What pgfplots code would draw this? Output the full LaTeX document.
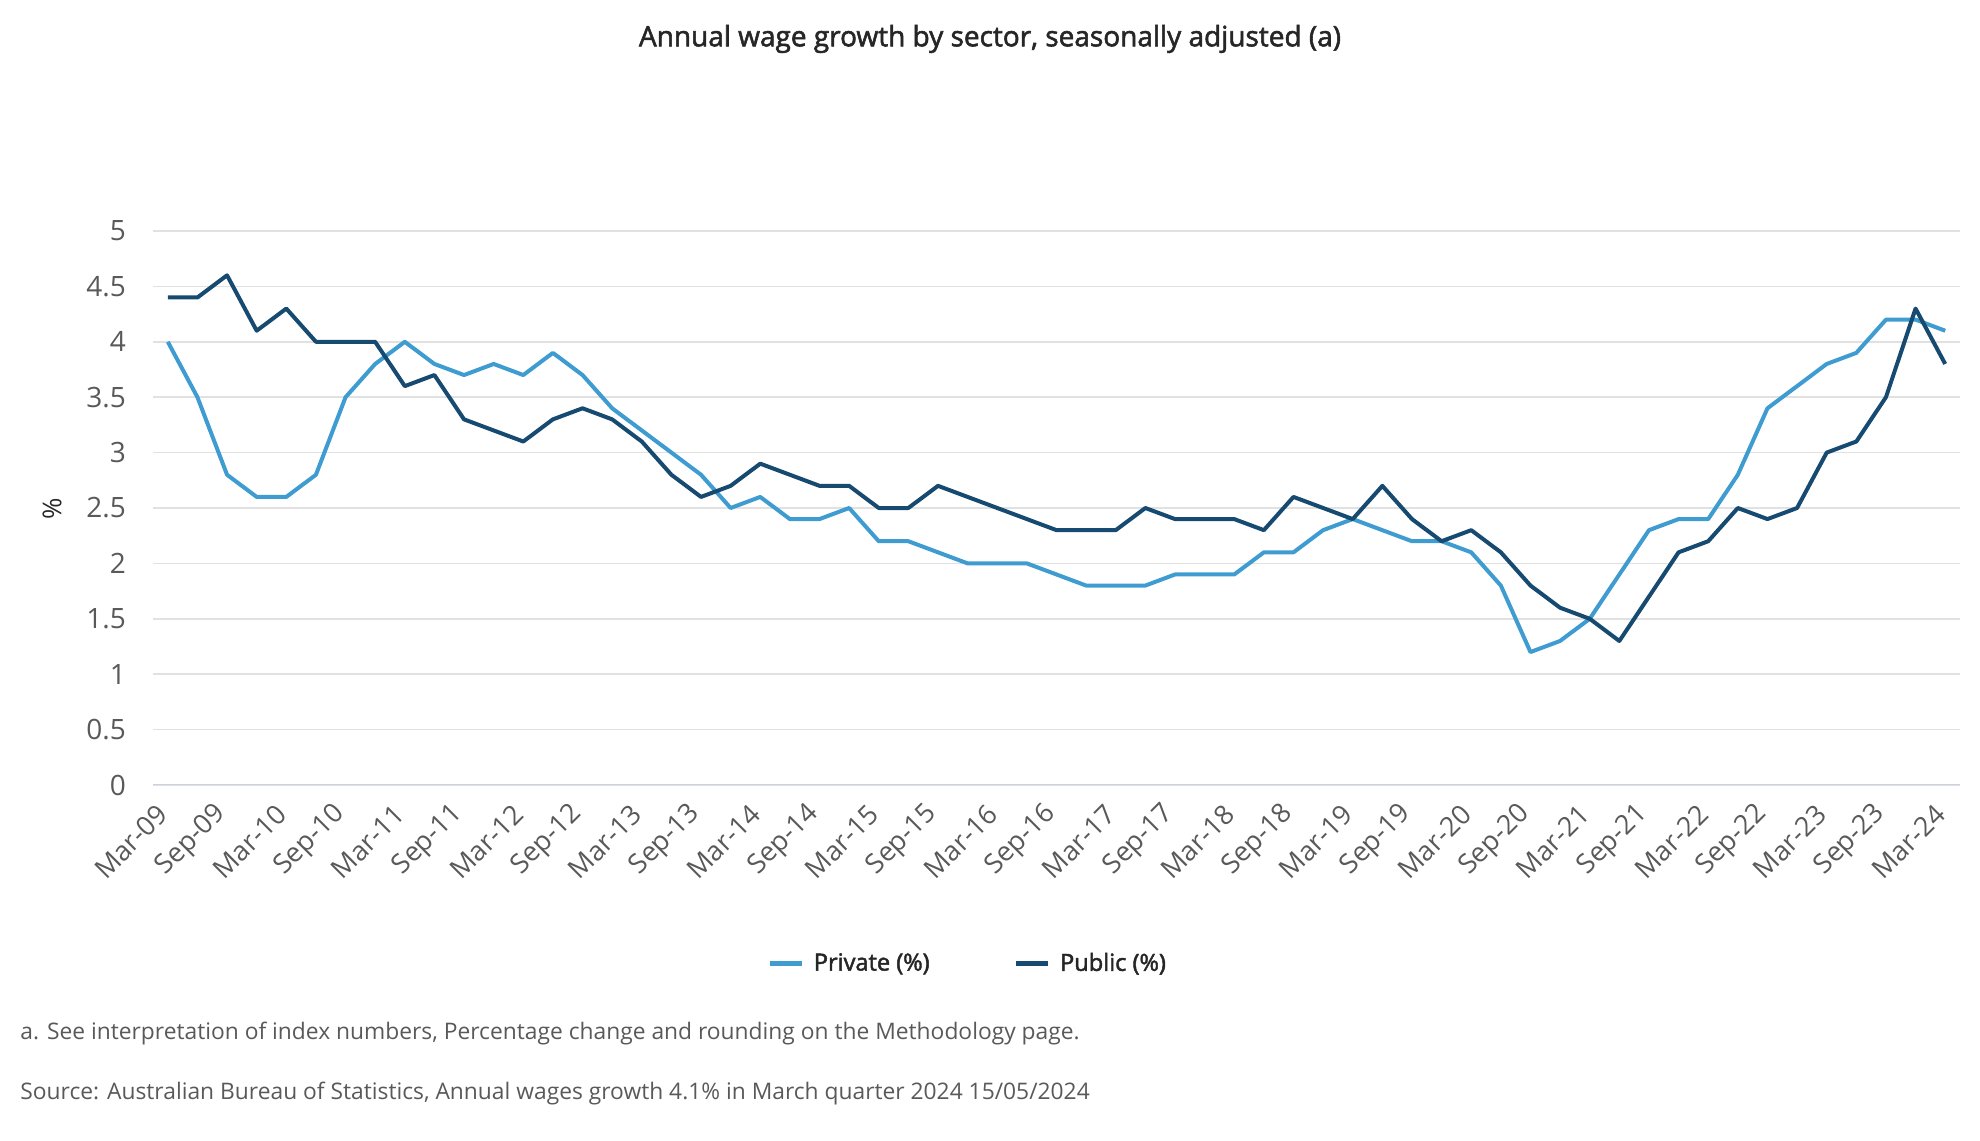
\documentclass[border=0pt]{standalone}
\usepackage{fontspec}
\setmainfont{Open Sans}
\newfontfamily\semib{Open Sans}[FakeBold=2]
\usepackage{pgfplots}
\pgfplotsset{compat=1.18}
\usepackage{pgfplotstable}
\definecolor{priv}{HTML}{3F9CD1}
\definecolor{publ}{HTML}{164A70}
\definecolor{gridc}{HTML}{E1E1E1}
\definecolor{axisc}{HTML}{C9D1E3}
\definecolor{tickc}{HTML}{595959}
\definecolor{titlec}{HTML}{262626}

\pgfplotstableread{
q priv publ
0 4.0 4.4
1 3.5 4.4
2 2.8 4.6
3 2.6 4.1
4 2.6 4.3
5 2.8 4.0
6 3.5 4.0
7 3.8 4.0
8 4.0 3.6
9 3.8 3.7
10 3.7 3.3
11 3.8 3.2
12 3.7 3.1
13 3.9 3.3
14 3.7 3.4
15 3.4 3.3
16 3.2 3.1
17 3.0 2.8
18 2.8 2.6
19 2.5 2.7
20 2.6 2.9
21 2.4 2.8
22 2.4 2.7
23 2.5 2.7
24 2.2 2.5
25 2.2 2.5
26 2.1 2.7
27 2.0 2.6
28 2.0 2.5
29 2.0 2.4
30 1.9 2.3
31 1.8 2.3
32 1.8 2.3
33 1.8 2.5
34 1.9 2.4
35 1.9 2.4
36 1.9 2.4
37 2.1 2.3
38 2.1 2.6
39 2.3 2.5
40 2.4 2.4
41 2.3 2.7
42 2.2 2.4
43 2.2 2.2
44 2.1 2.3
45 1.8 2.1
46 1.2 1.8
47 1.3 1.6
48 1.5 1.5
49 1.9 1.3
50 2.3 1.7
51 2.4 2.1
52 2.4 2.2
53 2.8 2.5
54 3.4 2.4
55 3.6 2.5
56 3.8 3.0
57 3.9 3.1
58 4.2 3.5
59 4.2 4.3
60 4.1 3.8
}\wages

\begin{document}
\begin{tikzpicture}[x=1pt,y=1pt]
\path[use as bounding box] (0,0) rectangle (990,570);
\begin{axis}[
  at={(76.5pt,177.5pt)}, anchor=south west,
  scale only axis, width=903.5pt, height=277pt,
  xmin=-0.5, xmax=60.5, ymin=0, ymax=5,
  axis line style={draw=none},
  tick style={draw=none},
  major tick length=0pt,
  ymajorgrids, grid style={gridc, line width=0.8pt},
  xtick={0,2,...,60},
  xticklabels={Mar-09,Sep-09,Mar-10,Sep-10,Mar-11,Sep-11,Mar-12,Sep-12,Mar-13,Sep-13,Mar-14,Sep-14,Mar-15,Sep-15,Mar-16,Sep-16,Mar-17,Sep-17,Mar-18,Sep-18,Mar-19,Sep-19,Mar-20,Sep-20,Mar-21,Sep-21,Mar-22,Sep-22,Mar-23,Sep-23,Mar-24},
  ytick={0,0.5,1,1.5,2,2.5,3,3.5,4,4.5,5},
  yticklabels={0,0.5,1,1.5,2,2.5,3,3.5,4,4.5,5},
  xticklabel style={rotate=45, anchor=east, font=\fontsize{13.5}{16}\selectfont, text=tickc},
  xticklabel shift=10pt,
  yticklabel style={font=\fontsize{14}{16}\selectfont, text=tickc},
  yticklabel shift=10pt,
  /pgf/number format/assume math mode=true,
  legend style={at={(0.4514,-0.322)}, anchor=center, draw=none, fill=none,
    font=\fontsize{11.8}{14}\selectfont\semib, text=titlec,
    /tikz/every odd column/.append style={column sep=3pt},
    /tikz/every even column/.append style={column sep=40pt}},
  legend columns=2,
  legend cell align=left,
  legend image code/.code={\draw[#1, line width=2.2pt] (0pt,0pt) -- (16pt,0pt);},
]
\draw[axisc, line width=1pt] (axis cs:-0.5,0) -- (axis cs:60.5,0);
\addplot[priv, line width=2pt, line join=round] table[x=q, y=priv] {\wages};
\addlegendentry{Private (\%)}
\addplot[publ, line width=2pt, line join=round] table[x=q, y=publ] {\wages};
\addlegendentry{Public (\%)}
\end{axis}
\node[font=\fontsize{14}{16}\selectfont\semib, text=titlec] at (495,550.5) {Annual wage growth by sector, seasonally adjusted (a)};
\node[rotate=90, font=\fontsize{13}{15}\selectfont, text=titlec] at (26,315.5) {\%};
\node[anchor=west, font=\fontsize{11.4}{14}\selectfont, text=tickc, inner sep=0pt] at (10,53) {a. See interpretation of index numbers, Percentage change and rounding on the Methodology page.};
\node[anchor=west, font=\fontsize{11.4}{14}\selectfont, text=tickc, inner sep=0pt] at (10,23) {Source: Australian Bureau of Statistics, Annual wages growth 4.1\% in March quarter 2024 15/05/2024};
\end{tikzpicture}
\end{document}
